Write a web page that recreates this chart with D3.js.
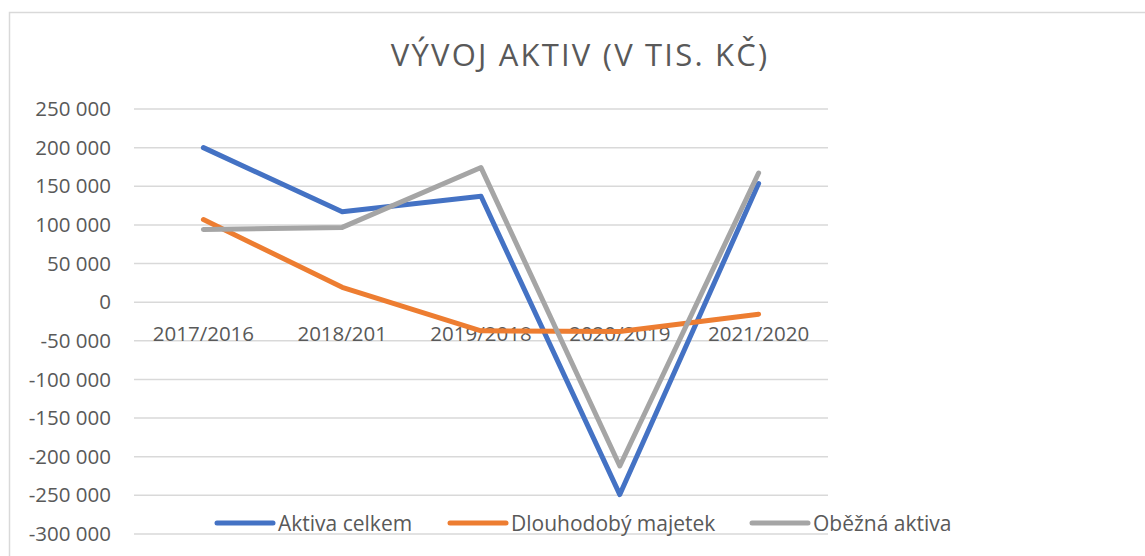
<!DOCTYPE html>
<html><head><meta charset="utf-8">
<script src="https://cdn.jsdelivr.net/npm/d3@7"></script>
<style>
html,body{margin:0;padding:0;background:#fff;}
svg{display:block;}
text{font-family:"Open Sans",sans-serif;fill:#595959;}
</style></head>
<body>
<svg id="chart" width="1145" height="556"></svg>
<script>
const title = "VÝVOJ AKTIV (V TIS. KČ)";
const categories = ["2017/2016","2018/201","2019/2018","2020/2019","2021/2020"];
const seriesNames = ["Aktiva celkem","Dlouhodobý majetek","Oběžná aktiva"];
const seriesColors = ["#4472c4","#ed7d31","#a5a5a5"];
const aktivaCelkem = [200000, 117000, 137000, -249000, 153500];
const dlouhodobyMajetek = [107000, 19300, -37000, -38000, -15500];
const obeznaAktiva = [94200, 96800, 174200, -212000, 167200];
const yTicks = [250000,200000,150000,100000,50000,0,-50000,-100000,-150000,-200000,-250000,-300000];

const seriesValues = [aktivaCelkem, dlouhodobyMajetek, obeznaAktiva];

const svg = d3.select("#chart");
svg.append("rect").attr("x",0).attr("y",0).attr("width",1145).attr("height",556).attr("fill","#fff");
svg.append("rect").attr("x",9.5).attr("y",12.5).attr("width",1160).attr("height",580)
  .attr("fill","none").attr("stroke","#d9d9d9").attr("stroke-width",1.5);

const x = d3.scaleBand().domain(categories).range([134,828]);
const y = d3.scaleLinear().domain([-300000,250000]).range([534,109]);

const fmt = v => {
  if (v === 0) return "0";
  const s = d3.format(",")(Math.abs(v)).replace(/,/g," ");
  return (v<0?"-":"") + s;
};

// gridlines
svg.append("g").selectAll("line").data(yTicks).join("line")
  .attr("x1",134).attr("x2",828)
  .attr("y1",d=>y(d)).attr("y2",d=>y(d))
  .attr("stroke","#d9d9d9").attr("stroke-width",1.5);

// y axis labels via d3 axis
const yAxis = d3.axisLeft(y).tickValues(yTicks).tickFormat(fmt).tickSize(0).tickPadding(0);
const gy = svg.append("g").attr("transform","translate(111,0)").call(yAxis);
gy.select(".domain").remove();
gy.selectAll("text").style("font-family","'Open Sans',sans-serif").style("font-size","20.5px").attr("fill","#595959");

// x axis labels
const xAxis = d3.axisBottom(x).tickSize(0).tickPadding(0);
const gx = svg.append("g").attr("transform",`translate(0,${y(0)})`).call(xAxis);
gx.select(".domain").remove();
gx.selectAll("text").style("font-family","'Open Sans',sans-serif").style("font-size","20.5px").attr("fill","#595959").attr("dy","0").attr("y",39);

// lines
const line = d3.line().x((d,i)=>x(categories[i])+x.bandwidth()/2).y(d=>y(d));
seriesValues.forEach((vals,k)=>{
  svg.append("path").datum(vals).attr("d",line)
    .attr("fill","none").attr("stroke",seriesColors[k]).attr("stroke-width",5)
    .attr("stroke-linecap","round").attr("stroke-linejoin","round");
});

// title
svg.append("text").attr("x",580).attr("y",66).attr("text-anchor","middle")
  .style("font-size","31px").style("font-weight","400").style("letter-spacing","2.2px").text(title);

// legend
const legendX = [217,450,752];
const lg = svg.append("g");
seriesNames.forEach((n,k)=>{
  lg.append("line").attr("x1",legendX[k]).attr("x2",legendX[k]+56).attr("y1",523).attr("y2",523)
    .attr("stroke",seriesColors[k]).attr("stroke-width",5).attr("stroke-linecap","round");
  lg.append("text").attr("x",legendX[k]+61).attr("y",531).style("font-size","21px").text(n);
});
</script>
</body></html>
